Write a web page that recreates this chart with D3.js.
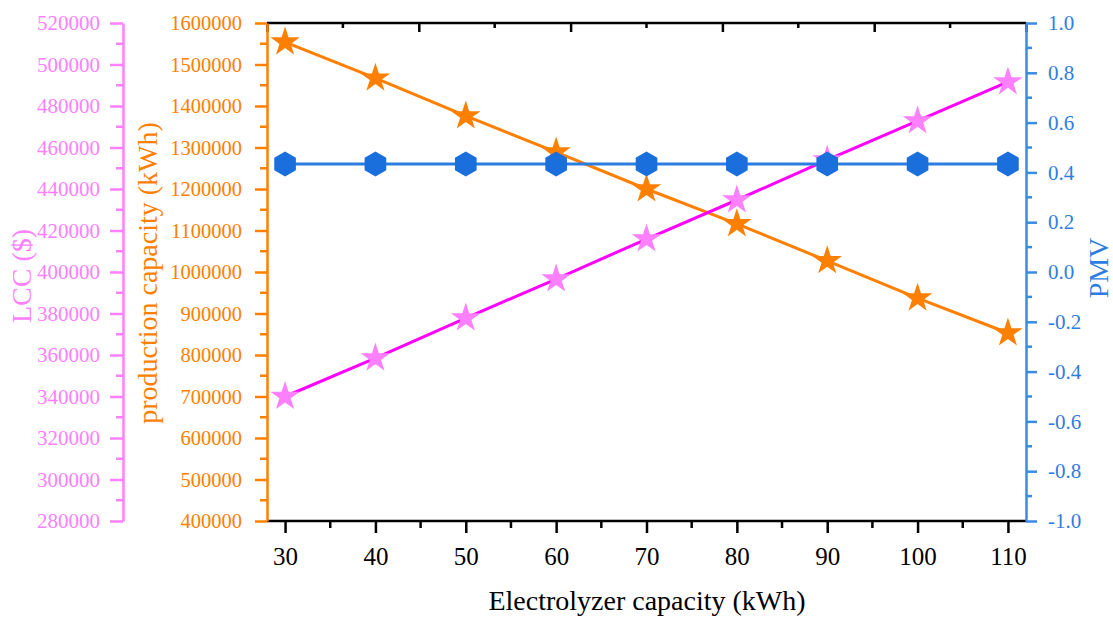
<!DOCTYPE html>
<html lang="en">
<head>
  <meta charset="UTF-8">
  <title>electrolyzer capacity</title>
  <script src="https://cdn.jsdelivr.net/npm/d3@7"></script>
  <style type="text/css">
    body { margin: 0; background: white; }
    svg { display: block; }
  </style>
</head>
<body>
<svg id="chart" width="1113" height="617"></svg>
<script>

  // values
  const capacity   = [30, 40, 50, 60, 70, 80, 90, 100, 110];
  const production = [1554000, 1467000, 1376000, 1289000, 1200000, 1116000, 1027000, 937000, 853000];
  const lcc        = [340000, 358500, 377800, 396600, 415900, 434700, 454000, 472800, 491600];
  const pmv        = [0.434, 0.434, 0.434, 0.434, 0.434, 0.434, 0.434, 0.434, 0.434];

  const xTicks    = [30, 40, 50, 60, 70, 80, 90, 100, 110];
  const prodTicks = d3.range(400000, 1600001, 100000);
  const lccTicks  = d3.range(280000, 520001, 20000);
  const pmvTicks  = d3.range(-1.0, 1.0001, 0.2);

  const orange = '#ff8000', pink = '#ff80ff', magenta = '#ff00ff',
        blue = '#1b6fdc', blueAxis = '#3a8ae8', blueText = '#2f7de0';
  const serif = '"Liberation Serif", "Times New Roman", "DejaVu Serif", serif';

  const pL = 267, pR = 1026, pT = 23, pB = 521;
  const svg = d3.select('#chart');

  const x     = d3.scaleLinear().domain([28, 112]).range([pL, pR]);
  const yProd = d3.scaleLinear().domain([400000, 1600000]).range([pB, pT]);
  const yLcc  = d3.scaleLinear().domain([280000, 520000]).range([pB, pT]);
  const yPmv  = d3.scaleLinear().domain([-1, 1]).range([pB, pT]);

  function styleAxis(g, color, size) {
    g.attr('font-family', null).attr('font-size', null);
    g.select('.domain').attr('stroke', color).attr('stroke-width', 2.5);
    g.selectAll('.tick line').attr('stroke', color).attr('stroke-width', 2.5);
    g.selectAll('.tick text').attr('fill', color)
      .style('font-family', serif).style('font-size', size + 'px');
  }
  function minorTicks(g, scale, vals, len, orient, color) {
    g.selectAll('line.minor').data(vals).enter().append('line').attr('class', 'minor')
      .attr('stroke', color).attr('stroke-width', 2.5)
      .each(function(d) {
        let s = d3.select(this);
        if (orient === 'h') s.attr('x1', scale(d)).attr('x2', scale(d)).attr('y1', 0).attr('y2', len);
        else s.attr('y1', scale(d)).attr('y2', scale(d)).attr('x1', 0).attr('x2', len);
      });
  }

  // bottom axis
  let gx = svg.append('g').attr('transform', `translate(0,${pB})`)
    .call(d3.axisBottom(x).tickValues(xTicks).tickSize(12).tickPadding(14).tickSizeOuter(0));
  styleAxis(gx, 'black', 25);
  gx.select('.domain').attr('d', `M${pL},0H${pR}`);
  minorTicks(gx, x, d3.range(35, 111, 10), 7, 'h', 'black');

  // top axis, no labels, ticks inward
  const xTop = d3.scaleLinear().domain([0, 5]).range([pL, pR]);
  let gt = svg.append('g').attr('transform', `translate(0,${pT})`)
    .call(d3.axisBottom(xTop).ticks(5).tickSize(9).tickFormat('').tickSizeOuter(0));
  styleAxis(gt, 'black', 20);
  gt.select('.domain').attr('d', `M${pL},0H${pR}`);
  minorTicks(gt, xTop, d3.range(0.5, 5, 1), 5, 'h', 'black');

  // production axis (orange)
  let gp = svg.append('g').attr('transform', `translate(${pL},0)`)
    .call(d3.axisLeft(yProd).tickValues(prodTicks).tickSize(12).tickPadding(13).tickSizeOuter(0).tickFormat(d3.format('d')));
  styleAxis(gp, orange, 20.5);
  minorTicks(gp, yProd, d3.range(450000, 1600000, 100000), -7, 'v', orange);

  // LCC axis (pink)
  let gl = svg.append('g').attr('transform', 'translate(123,0)')
    .call(d3.axisLeft(yLcc).tickValues(lccTicks).tickSize(13).tickPadding(10).tickSizeOuter(0).tickFormat(d3.format('d')));
  styleAxis(gl, pink, 21);
  minorTicks(gl, yLcc, d3.range(290000, 520000, 20000), -7, 'v', pink);

  // PMV axis (blue)
  const pmvFmt = d => d3.format('.1f')(d).replace('\u2212', '-');
  let gr = svg.append('g').attr('transform', `translate(${pR},0)`)
    .call(d3.axisRight(yPmv).tickValues(pmvTicks).tickSize(11).tickPadding(11).tickSizeOuter(0).tickFormat(pmvFmt));
  styleAxis(gr, blueAxis, 21);
  gr.selectAll('.tick text').attr('fill', blueText);
  minorTicks(gr, yPmv, d3.range(-0.9, 1.0, 0.2), 6, 'v', blueAxis);

  // axis titles
  function title(tr, color, label) {
    svg.append('text').attr('transform', tr).attr('text-anchor', 'middle')
      .style('font-family', serif).style('font-size', '28px').attr('fill', color).text(label);
  }
  title(`translate(${(pL + pR) / 2 + 0.5},610)`, 'black', 'Electrolyzer capacity (kWh)');
  title('translate(157,273) rotate(-90)', orange, 'production capacity (kWh)');
  title('translate(31,276) rotate(-90)', pink, 'LCC ($)');
  title('translate(1108,268) rotate(-90)', blueText, 'PMV');

  // series
  const star = d3.symbol().type(d3.symbolStar).size(270);
  const hex = d3.range(6).map(i => {
    let a = Math.PI / 6 + i * Math.PI / 3;
    return [12.5 * Math.cos(a), 12.5 * Math.sin(a)];
  });

  function series(vals, yScale, lineColor, markColor, shape) {
    let pts = capacity.map((c, i) => [x(c), yScale(vals[i])]);
    svg.append('path').attr('d', d3.line()(pts)).attr('fill', 'none')
      .attr('stroke', lineColor).attr('stroke-width', 3);
    let g = svg.append('g');
    if (shape === 'star') {
      g.selectAll('path').data(pts).enter().append('path').attr('d', star)
        .attr('transform', d => `translate(${d[0]},${d[1]})`).attr('fill', markColor);
    } else {
      g.selectAll('polygon').data(pts).enter().append('polygon')
        .attr('points', hex.map(p => p.join(',')).join(' '))
        .attr('transform', d => `translate(${d[0]},${d[1]})`).attr('fill', markColor);
    }
  }

  series(production, yProd, orange, orange, 'star');
  series(lcc, yLcc, magenta, pink, 'star');
  series(pmv, yPmv, '#2a7de1', blue, 'hex');

</script>
</body>
</html>
